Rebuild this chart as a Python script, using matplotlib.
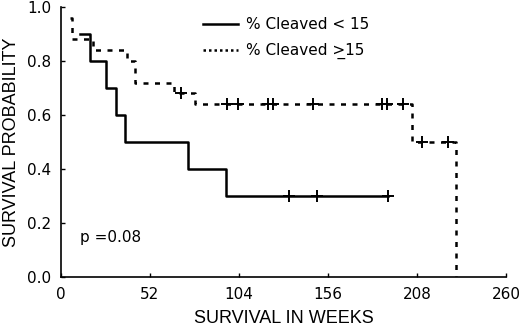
import matplotlib
matplotlib.use("Agg")
import matplotlib.pyplot as plt
from matplotlib.lines import Line2D

# Kaplan-Meier steps (weeks, survival probability)
low_times = [11.1, 17.0, 26.3, 32.3, 37.2, 74.4, 96.2, 190.9]
low_surv = [0.90, 0.80, 0.70, 0.60, 0.50, 0.40, 0.30, 0.30]
low_cens_t = [133.0, 149.8, 190.9]
low_cens_s = [0.30, 0.30, 0.30]

high_times = [5.5, 6.5, 18.7, 38.4, 43.2, 66.0, 78.3, 205.4, 230.8]
high_surv = [0.96, 0.88, 0.84, 0.80, 0.72, 0.68, 0.64, 0.50, 0.0]
high_cens_t = [69.9, 97.2, 103.6, 121.1, 124.0, 147.4, 187.4, 190.3, 200.0, 210.8, 226.3]
high_cens_s = [0.68, 0.64, 0.64, 0.64, 0.64, 0.64, 0.64, 0.64, 0.64, 0.50, 0.50]

x_ticks = [0, 52, 104, 156, 208, 260]
y_ticks = [0.0, 0.2, 0.4, 0.6, 0.8, 1.0]

label_font = ["Liberation Sans", "DejaVu Sans"]

fig = plt.figure(figsize=(5.2, 3.31), dpi=100)
ax = fig.add_axes([0.117, 0.163, 0.856, 0.816])

dotted = (0, (2.0, 2.6))
ax.step(low_times, low_surv, where="post", color="black", lw=1.8)
ax.plot(low_cens_t, low_cens_s, ls="none", marker="+", ms=8, mew=1.4, color="black")
ax.step(high_times, high_surv, where="post", color="black", lw=1.8, linestyle=dotted)
ax.plot(high_cens_t, high_cens_s, ls="none", marker="+", ms=8, mew=1.4, color="black")

ax.text(11, 0.13, "p =0.08", fontsize=11)

handles = [
    Line2D([], [], color="black", lw=1.8),
    Line2D([], [], color="black", lw=1.8, linestyle=(0, (1.0, 1.2))),
]
ax.legend(handles, ["% Cleaved < 15", "% Cleaved >\u033215"],
          loc="upper left", bbox_to_anchor=(0.288, 1.012), frameon=False,
          fontsize=11, handlelength=2.3, handletextpad=0.5, labelspacing=0.7)

ax.set_xlim(0, 260)
ax.set_ylim(0, 1.0)
ax.set_xticks(x_ticks)
ax.set_yticks(y_ticks)
ax.set_yticklabels([f"{v:.1f}" for v in y_ticks])
ax.tick_params(direction="in", length=3, width=1, labelsize=11, pad=7)
for side in ("top", "right"):
    ax.spines[side].set_visible(False)
for side in ("left", "bottom"):
    ax.spines[side].set_linewidth(1.2)

ax.set_xlabel("SURVIVAL IN WEEKS", family=label_font, fontsize=13, labelpad=6)
ax.set_ylabel("SURVIVAL PROBABILITY", family=label_font, fontsize=13, labelpad=5)

fig.savefig("out.png", dpi=100)
